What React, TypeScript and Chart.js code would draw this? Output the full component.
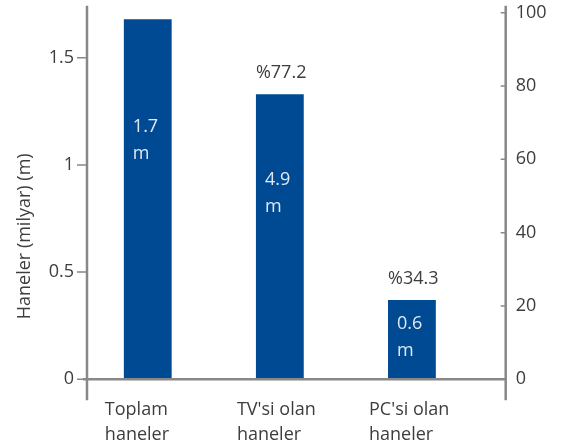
import React, { useEffect, useRef } from "react";
import { Chart, registerables } from "chart.js";

Chart.register(...registerables);

// Household counts (billions) per category
const categories: string[][] = [
  ["Toplam", "haneler"],
  ["TV'si olan", "haneler"],
  ["PC'si olan", "haneler"],
];
const households: number[] = [1.68, 1.33, 0.37];
const barLabels: string[][] = [
  ["1.7", "m"],
  ["4.9", "m"],
  ["0.6", "m"],
];
const shareLabels: string[] = ["", "%77.2", "%34.3"];
const leftTicks: number[] = [0, 0.5, 1, 1.5];
const rightTicks: number[] = [0, 20, 40, 60, 80, 100];
const yTitle = "Haneler (milyar) (m)";

const BAR_COLOR = "#004a93";
const AXIS_COLOR = "#888888";
const TEXT_COLOR = "#3d3d3d";
const INNER_TEXT = "#e2e8f1";
const FONT = "18px 'Open Sans'";

const decorPlugin = {
  id: "decor",
  afterDraw(chart: any) {
    const { ctx, chartArea: a, scales } = chart;
    const y = scales.y;
    const y2 = scales.y2;
    ctx.save();

    // axis lines, extended past the plot area
    ctx.strokeStyle = AXIS_COLOR;
    ctx.lineWidth = 2.5;
    ctx.beginPath();
    ctx.moveTo(a.left, a.top - 7);
    ctx.lineTo(a.left, a.bottom + 21);
    ctx.moveTo(a.right, a.top - 7);
    ctx.lineTo(a.right, a.bottom + 21);
    ctx.moveTo(a.left - 4, a.bottom);
    ctx.lineTo(a.right, a.bottom);
    ctx.stroke();

    // tick marks
    ctx.lineWidth = 1.5;
    ctx.beginPath();
    y.ticks.forEach((t: any) => {
      const py = y.getPixelForValue(t.value);
      ctx.moveTo(a.left - 10, py);
      ctx.lineTo(a.left, py);
    });
    y2.ticks.forEach((t: any) => {
      const py = y2.getPixelForValue(t.value);
      ctx.moveTo(a.right - 5, py);
      ctx.lineTo(a.right, py);
    });
    ctx.stroke();

    ctx.font = FONT;
    const bars = chart.getDatasetMeta(0).data;
    bars.forEach((bar: any, i: number) => {
      const left = bar.x - bar.width / 2;
      const h = bar.base - bar.y;

      // category label under the axis
      ctx.fillStyle = TEXT_COLOR;
      ctx.textAlign = "left";
      ctx.textBaseline = "alphabetic";
      categories[i].forEach((line, j) => {
        ctx.fillText(line, left - 19, a.bottom + 36 + j * 25);
      });

      // share label above the bar
      if (shareLabels[i]) {
        ctx.fillText(shareLabels[i], left, bar.y - 16);
      }

      // value label inside the bar
      ctx.fillStyle = INNER_TEXT;
      const first = bar.y + Math.max(27, 0.3 * h + 5);
      barLabels[i].forEach((line, j) => {
        ctx.fillText(line, left + 9, first + j * 27);
      });
    });

    // left axis title
    ctx.fillStyle = TEXT_COLOR;
    ctx.translate(25, a.bottom - 143);
    ctx.rotate(-Math.PI / 2);
    ctx.textAlign = "center";
    ctx.textBaseline = "middle";
    ctx.fillText(yTitle, 0, 0);
    ctx.restore();
  },
};

export default function App() {
  const ref = useRef<HTMLCanvasElement | null>(null);

  useEffect(() => {
    if (!ref.current) return;
    Chart.defaults.font.family = "'Open Sans'";
    const chart = new Chart(ref.current, {
      type: "bar",
      data: {
        datasets: [
          {
            data: households.map((v, i) => ({ x: i, y: v })),
            backgroundColor: BAR_COLOR,
            borderWidth: 0,
            categoryPercentage: 1,
            barPercentage: 0.362,
            yAxisID: "y",
          },
        ],
      },
      options: {
        responsive: false,
        animation: false,
        layout: { padding: { top: 12.7, bottom: 68.7, left: 0, right: 0 } },
        plugins: {
          legend: { display: false },
          tooltip: { enabled: false },
        },
        scales: {
          x: {
            type: "linear",
            display: false,
            offset: false,
            grid: { offset: false },
            min: -0.46,
            max: 2.71,
            afterBuildTicks: (s: any) => {
              s.ticks = categories.map((_, i) => ({ value: i }));
            },
          },
          y: {
            type: "linear",
            position: "left",
            min: 0,
            max: 1.71,
            grid: { display: false, drawTicks: false },
            border: { display: false },
            ticks: {
              padding: 13,
              color: TEXT_COLOR,
              font: { size: 18, family: "'Open Sans'" },
              callback: (v: any) => String(v),
            },
            afterBuildTicks: (s: any) => {
              s.ticks = leftTicks.map((v) => ({ value: v }));
            },
            afterFit: (s: any) => {
              s.width = 87;
              s.paddingTop = 0;
              s.paddingBottom = 0;
            },
          },
          y2: {
            type: "linear",
            position: "right",
            min: 0,
            max: 100,
            grid: { display: false, drawTicks: false },
            border: { display: false },
            ticks: {
              padding: 10,
              color: TEXT_COLOR,
              font: { size: 18, family: "'Open Sans'" },
              callback: (v: any) => String(v),
            },
            afterBuildTicks: (s: any) => {
              s.ticks = rightTicks.map((v) => ({ value: v }));
            },
            afterFit: (s: any) => {
              s.width = 68.3;
              s.paddingTop = 0;
              s.paddingBottom = 0;
            },
          },
        },
      },
      plugins: [decorPlugin],
    } as any);
    return () => chart.destroy();
  }, []);

  return (
    <div style={{ position: "fixed", left: 0, top: 0, width: 574, height: 448, background: "#ffffff" }}>
      <canvas ref={ref} width={574} height={448} style={{ display: "block" }} />
    </div>
  );
}
